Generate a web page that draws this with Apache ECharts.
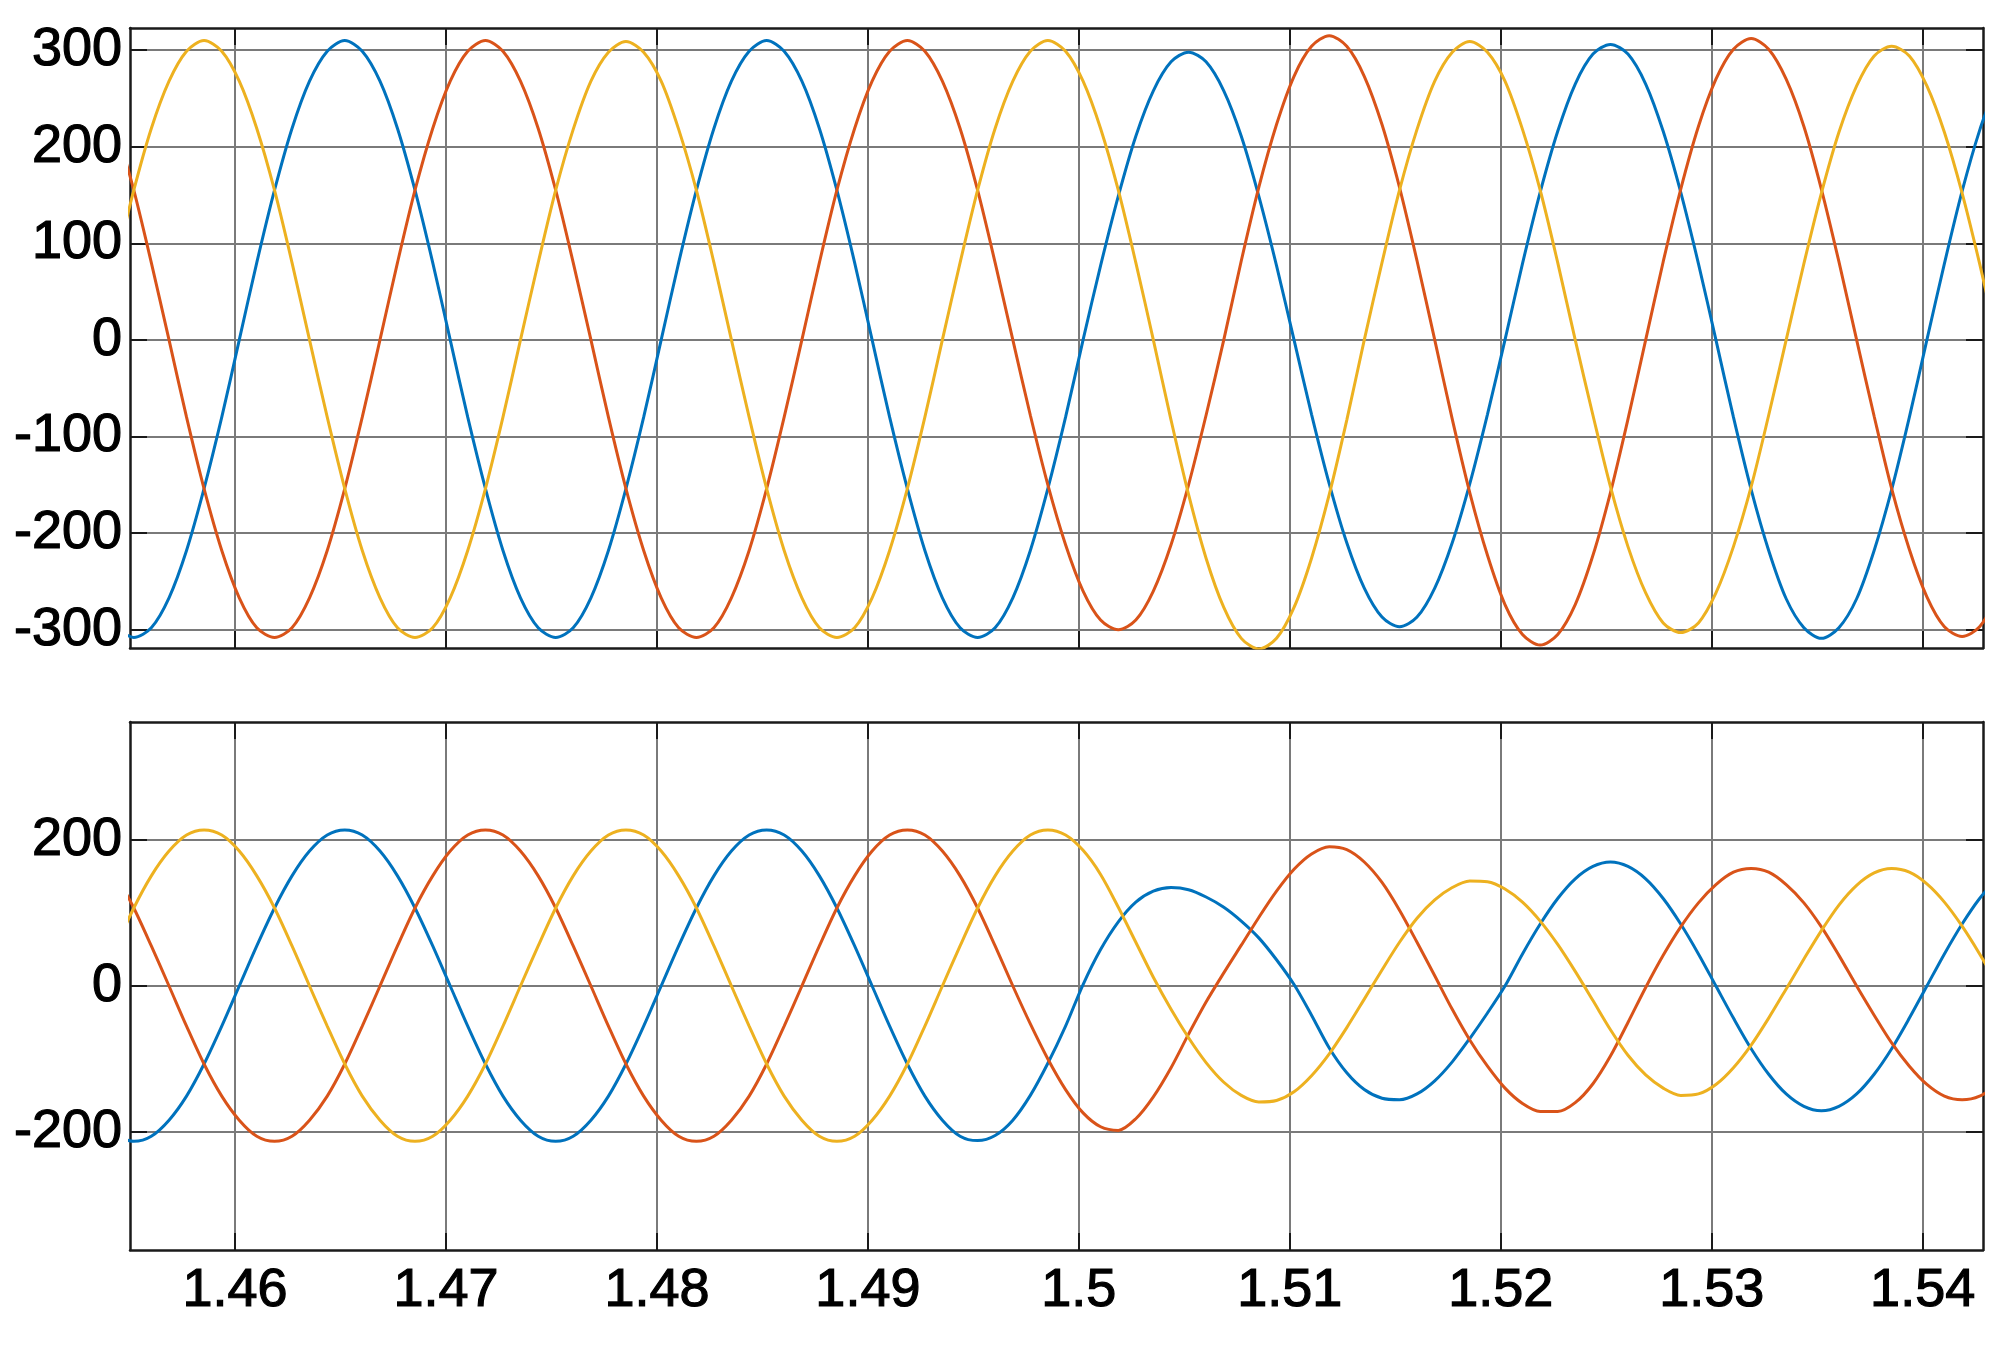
<!DOCTYPE html>
<html>
<head>
<meta charset="utf-8">
<script src="https://cdn.jsdelivr.net/npm/echarts@6/dist/echarts.min.js"></script>
<style>
html,body{margin:0;padding:0;background:#fff;}
#chart{width:2000px;height:1350px;}
</style>
</head>
<body>
<div id="chart"></div>
<script>
// time samples (s)
var times = [1.45437,
  1.45520, 1.45603, 1.45687, 1.45770, 1.45853, 1.45937,
  1.46020, 1.46103, 1.46187, 1.46270, 1.46353, 1.46437,
  1.46520, 1.46603, 1.46687, 1.46770, 1.46853, 1.46937,
  1.47020, 1.47103, 1.47187, 1.47270, 1.47353, 1.47437,
  1.47520, 1.47603, 1.47687, 1.47770, 1.47853, 1.47937,
  1.48020, 1.48103, 1.48187, 1.48270, 1.48353, 1.48437,
  1.48520, 1.48603, 1.48687, 1.48770, 1.48853, 1.48937,
  1.49020, 1.49103, 1.49187, 1.49270, 1.49353, 1.49437,
  1.49520, 1.49603, 1.49687, 1.49770, 1.49853, 1.49937,
  1.50020, 1.50103, 1.50187, 1.50270, 1.50353, 1.50437,
  1.50520, 1.50603, 1.50687, 1.50770, 1.50853, 1.50937,
  1.51020, 1.51103, 1.51187, 1.51270, 1.51353, 1.51437,
  1.51520, 1.51603, 1.51687, 1.51770, 1.51853, 1.51937,
  1.52020, 1.52103, 1.52187, 1.52270, 1.52353, 1.52437,
  1.52520, 1.52603, 1.52687, 1.52770, 1.52853, 1.52937,
  1.53020, 1.53103, 1.53187, 1.53270, 1.53353, 1.53437,
  1.53520, 1.53603, 1.53687, 1.53770, 1.53853, 1.53937,
  1.54020, 1.54103, 1.54187, 1.54270, 1.54353];

// upper panel
var topBlue = [-298,
  -308, -298, -267, -218, -154, -80,
  0, 80, 155, 219, 268, 299,
  310, 299, 268, 219, 155, 80,
  0, -80, -154, -218, -267, -298,
  -308, -298, -267, -218, -154, -80,
  0, 80, 155, 219, 268, 299,
  310, 299, 268, 219, 155, 80,
  0, -80, -154, -218, -267, -298,
  -308, -298, -267, -218, -154, -80,
  0, 77, 149, 211, 258, 288,
  298, 288, 258, 211, 149, 77,
  0, -77, -149, -210, -257, -287,
  -297, -287, -257, -210, -149, -77,
  0, 79, 153, 216, 265, 296,
  306, 296, 265, 216, 153, 79,
  0, -80, -155, -218, -268, -298,
  -309, -298, -268, -218, -155, -80,
  0, 79, 154, 217, 266];
var topOrange = [219,
  155, 80, 0, -80, -154, -218,
  -267, -298, -308, -298, -267, -218,
  -154, -80, 0, 80, 155, 219,
  268, 299, 310, 299, 268, 219,
  155, 80, 0, -80, -154, -218,
  -267, -298, -308, -298, -267, -218,
  -154, -80, 0, 80, 155, 219,
  268, 299, 310, 299, 268, 219,
  155, 80, 0, -78, -150, -212,
  -260, -290, -300, -290, -260, -212,
  -150, -78, 0, 82, 158, 223,
  273, 304, 315, 304, 273, 223,
  158, 82, 0, -82, -158, -223,
  -274, -305, -316, -305, -274, -223,
  -158, -82, 0, 81, 156, 221,
  270, 301, 312, 301, 270, 221,
  156, 81, 0, -79, -154, -217,
  -266, -297, -307, -297, -266];
var topYellow = [80,
  155, 219, 268, 299, 310, 299,
  268, 219, 155, 80, 0, -80,
  -154, -218, -267, -298, -308, -298,
  -267, -218, -154, -80, 0, 80,
  155, 218, 268, 298, 309, 298,
  268, 218, 155, 80, 0, -80,
  -154, -218, -267, -298, -308, -298,
  -267, -218, -154, -80, 0, 80,
  155, 219, 268, 299, 310, 299,
  268, 219, 155, 80, 0, -83,
  -160, -226, -277, -309, -320, -309,
  -277, -226, -160, -83, 0, 80,
  155, 218, 268, 298, 309, 298,
  268, 218, 155, 80, 0, -78,
  -152, -214, -262, -293, -303, -293,
  -262, -214, -152, -78, 0, 79,
  152, 215, 263, 294, 304, 294,
  263, 215, 152, 79, 0];

// lower panel
var botBlue = [-206,
  -213, -206, -184, -151, -107, -55,
  0, 55, 107, 151, 185, 207,
  214, 207, 185, 151, 107, 55,
  0, -55, -107, -151, -184, -206,
  -213, -206, -184, -151, -107, -55,
  0, 55, 107, 151, 185, 207,
  214, 207, 185, 151, 107, 55,
  0, -55, -107, -151, -184, -206,
  -212, -205, -184, -150, -106, -55,
  2, 50, 88, 115, 130, 135,
  132, 122, 108, 89, 66, 36,
  2, -40, -85, -119, -142, -154,
  -156, -148, -130, -104, -72, -37,
  0, 44, 85, 120, 147, 164,
  170, 164, 147, 120, 85, 44,
  0, -44, -86, -121, -148, -165,
  -171, -165, -148, -121, -86, -44,
  0, 44, 85, 120, 147];
var botOrange = [151,
  107, 55, 0, -55, -107, -151,
  -184, -206, -213, -206, -184, -151,
  -107, -55, 0, 55, 107, 151,
  185, 207, 214, 207, 185, 151,
  107, 55, 0, -55, -107, -151,
  -184, -206, -213, -206, -184, -151,
  -107, -55, 0, 55, 107, 151,
  185, 207, 214, 207, 185, 151,
  107, 55, 0, -52, -100, -142,
  -174, -193, -198, -182, -152, -112,
  -66, -22, 18, 56, 94, 130,
  160, 181, 191, 187, 170, 142,
  104, 60, 14, -32, -74, -110,
  -140, -161, -172, -172, -160, -134,
  -96, -50, -2, 42, 81, 114,
  139, 156, 161, 156, 139, 114,
  81, 42, 0, -40, -78, -110,
  -135, -151, -156, -151, -135];
var botYellow = [55,
  107, 151, 185, 207, 214, 207,
  185, 151, 107, 55, 0, -55,
  -107, -151, -184, -206, -213, -206,
  -184, -151, -107, -55, 0, 55,
  107, 151, 185, 207, 214, 207,
  185, 151, 107, 55, 0, -55,
  -107, -151, -184, -206, -213, -206,
  -184, -151, -107, -55, 0, 55,
  107, 151, 185, 207, 214, 207,
  186, 153, 108, 60, 12, -32,
  -71, -105, -132, -150, -159, -157,
  -145, -123, -93, -57, -18, 22,
  60, 93, 118, 135, 144, 143,
  133, 115, 89, 57, 20, -20,
  -60, -95, -122, -140, -150, -148,
  -135, -112, -81, -44, -4, 37,
  76, 111, 138, 155, 161, 156,
  140, 115, 82, 44, 3];

// ticks
var xTicks = [1.46, 1.47, 1.48, 1.49, 1.50, 1.51, 1.52, 1.53, 1.54];
var topYTicks = [-300, -200, -100, 0, 100, 200, 300];
var botYTicks = [-200, 0, 200];

var colors = ['#0072BD', '#D95319', '#EDB120'];

function pairs(vals) {
  var out = [];
  for (var i = 0; i < times.length; i++) out.push([times[i], vals[i]]);
  return out;
}

var XMIN = 1.45502, XMAX = 1.54286;
var FONT = {fontFamily: 'Liberation Sans, Arial, Helvetica, sans-serif', fontSize: 54, color: '#000',
  textBorderColor: '#000', textBorderWidth: 1.2};
var gridLine = {show: true, lineStyle: {color: '#7a7a7a', width: 2}};
var boxLine = {show: true, onZero: false, lineStyle: {color: '#1a1a1a', width: 2.5}};

function tick(vals) {
  return {show: true, inside: true, length: 17, customValues: vals, lineStyle: {color: '#1a1a1a', width: 2}};
}

function xAx(grid, pos, labels) {
  return {
    type: 'value', gridIndex: grid, position: pos, min: XMIN, max: XMAX,
    axisLine: boxLine, axisTick: tick(xTicks),
    axisLabel: Object.assign({show: labels, customValues: xTicks, margin: 14,
      formatter: function (v) { return String(parseFloat(v.toFixed(4))); }}, FONT),
    splitLine: pos === 'bottom' ? Object.assign({}, gridLine) : {show: false}
  };
}
function yAx(grid, pos, labels, min, max, ticks) {
  return {
    type: 'value', gridIndex: grid, position: pos, min: min, max: max,
    axisLine: boxLine, axisTick: tick(ticks),
    axisLabel: Object.assign({show: labels, customValues: ticks, margin: 8, padding: [16, 0, 0, 0],
      formatter: function (v) { return String(v); }}, FONT),
    splitLine: pos === 'left' ? Object.assign({}, gridLine) : {show: false}
  };
}

function ser(vals, color, xi, yi) {
  return {
    type: 'line', data: pairs(vals), xAxisIndex: xi, yAxisIndex: yi,
    showSymbol: false, symbol: 'none', smooth: 0.3, clip: true,
    lineStyle: {color: color, width: 3}, itemStyle: {color: color}, z: 5
  };
}

var chart = echarts.init(document.getElementById('chart'), null, {renderer: 'canvas'});
chart.setOption({
  animation: false,
  backgroundColor: '#fff',
  grid: [
    {left: 130, top: 28, width: 1853, height: 620, containLabel: false},
    {left: 130, top: 722, width: 1853, height: 528, containLabel: false}
  ],
  xAxis: [
    xAx(0, 'bottom', false),
    xAx(0, 'top', false),
    xAx(1, 'bottom', true),
    xAx(1, 'top', false)
  ],
  yAxis: [
    yAx(0, 'left', true, -319, 323, topYTicks),
    yAx(0, 'right', false, -319, 323, topYTicks),
    yAx(1, 'left', true, -362, 362, botYTicks),
    yAx(1, 'right', false, -362, 362, botYTicks)
  ],
  series: [
    ser(topBlue, colors[0], 0, 0),
    ser(topOrange, colors[1], 0, 0),
    ser(topYellow, colors[2], 0, 0),
    ser(botBlue, colors[0], 2, 2),
    ser(botOrange, colors[1], 2, 2),
    ser(botYellow, colors[2], 2, 2)
  ]
});
</script>
</body>
</html>
